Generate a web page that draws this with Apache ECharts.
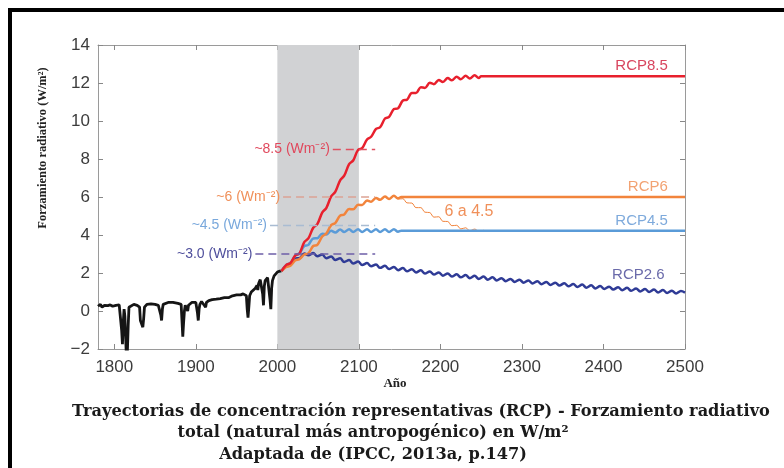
<!DOCTYPE html>
<html><head><meta charset="utf-8">
<script src="https://cdn.jsdelivr.net/npm/echarts@6/dist/echarts.min.js"></script>
<style>
html,body{margin:0;padding:0;background:#fff;overflow:hidden;width:784px;height:468px;}
#c{position:absolute;left:0;top:0;width:784px;height:468px;}
#frame{position:absolute;left:8px;top:8px;width:800px;height:480px;border-top:4px solid #000;border-left:4px solid #000;pointer-events:none;}
</style></head><body>
<div id="c"></div><div id="frame"></div>
<script>
// ---------- data ----------
const xTicks = [1800, 1900, 2000, 2100, 2200, 2300, 2400, 2500];
const band = [2000, 2100];

const histYears = [1780,1783,1785,1788,1792,1795,1798,1802,1806,1808,1809,1810,1811,1812,1813,1815,1816,1817,1818,1820,1824,1828,1831,1832,1835,1836,1837,1840,1845,1850,1854,1856,1857,1858,1859,1860,1866,1872,1878,1882,1883,1884,1885,1886,1887,1889,1890,1891,1895,1900,1902,1903,1904,1905,1907,1912,1913,1916,1920,1925,1930,1935,1940,1945,1950,1955,1958,1962,1963,1964,1965,1966,1968,1970,1973,1975,1976,1977,1979,1981,1982,1983,1984,1985,1988,1990,1991,1992,1993,1994,1996,1998,2000,2003,2005];
const histVals = [0.25,0.35,0.2,0.3,0.28,0.32,0.25,0.3,0.32,0.28,-1.0,-1.75,-0.6,0.1,-0.3,-2.6,-2.2,-0.8,0.2,0.3,0.35,0.3,0.2,-0.5,-0.85,-0.4,0.2,0.35,0.38,0.35,0.3,0.3,-0.2,-0.5,0.1,0.35,0.45,0.45,0.4,0.35,-0.5,-1.35,-0.6,0.0,0.3,0.25,0.0,0.3,0.45,0.45,-0.1,-0.5,0.1,0.35,0.5,0.2,0.45,0.55,0.6,0.62,0.65,0.7,0.7,0.8,0.85,0.85,0.9,0.8,0.1,-0.35,0.2,0.8,1.0,1.1,1.2,1.35,1.1,1.45,1.65,1.55,0.9,0.3,1.3,1.6,1.75,1.8,0.6,0.1,1.2,1.6,1.85,1.95,2.05,2.1,2.1];

// years of the scenario samples (half solar cycles)
const scenYears = [2005,2011,2016,2022,2027,2033,2038,2044,2049,2055,2060,2066,2071,2077,2082,2088,2093,2099,2104,2110,2115,2121,2126,2132,2137,2143,2148,2154,2159,2165,2170,2176,2181,2187,2192,2198,2203,2209,2214,2220,2225,2231,2236,2242,2247,2253,2258,2264,2269,2275,2280,2286,2291,2297,2302,2308,2313,2319,2324,2330,2335,2341,2346,2352,2357,2363,2368,2374,2379,2385,2390,2396,2401,2407,2412,2418,2423,2429,2434,2440,2445,2451,2456,2462,2467,2473,2478,2484,2489,2495,2500];

const rcp26 = [2.1,2.37,2.43,2.77,2.78,3.02,2.93,3.05,2.88,2.97,2.78,2.87,2.68,2.77,2.58,2.68,2.50,2.60,2.42,2.52,2.35,2.45,2.27,2.38,2.21,2.32,2.15,2.26,2.09,2.20,2.03,2.14,1.97,2.08,1.92,2.03,1.86,1.98,1.81,1.93,1.77,1.89,1.73,1.85,1.69,1.81,1.65,1.77,1.61,1.73,1.57,1.69,1.53,1.65,1.49,1.61,1.45,1.57,1.41,1.53,1.37,1.49,1.34,1.46,1.30,1.42,1.26,1.39,1.23,1.35,1.19,1.32,1.16,1.28,1.13,1.25,1.09,1.22,1.06,1.19,1.03,1.16,1.00,1.13,0.97,1.10,0.95,1.07,0.92,1.05,0.97];

const rcp85 = [2.1,2.43,2.52,2.93,3.02,3.63,3.82,4.38,4.57,5.18,5.42,6.03,6.27,6.88,7.12,7.73,7.92,8.48,8.57,9.03,9.17,9.58,9.67,10.13,10.22,10.63,10.67,11.08,11.12,11.48,11.47,11.78,11.74,12.01,11.94,12.16,12.05,12.26,12.14,12.33,12.20,12.38,12.24,12.41,12.26];
const rcp85TailYears = [2250, 2500];
const rcp85TailVals = [12.35, 12.35];

const rcp6 = [2.1,2.32,2.38,2.67,2.73,2.97,3.03,3.42,3.48,3.92,4.08,4.52,4.63,5.02,5.08,5.37,5.35,5.59,5.58,5.82,5.75,5.95,5.85,6.02,5.90,6.06,5.93];
const rcp6TailYears = [2152, 2500];
const rcp6TailVals = [6.0, 6.0];

const rcp45 = [2.1,2.42,2.53,2.92,3.03,3.42,3.48,3.82,3.83,4.07,4.03,4.22,4.13,4.29,4.16,4.30,4.16,4.30,4.16,4.30,4.16,4.30,4.16,4.30,4.16,4.30,4.17];
const rcp45TailYears = [2152, 2500];
const rcp45TailVals = [4.23, 4.23];

const r6to45Years = [2143,2148,2154,2159,2165,2170,2176,2181,2187,2192,2198,2203,2209,2214,2220,2225,2231,2236,2242,2247,2253];
const r6to45Vals = [6.06,5.89,5.91,5.69,5.68,5.44,5.44,5.20,5.18,4.94,4.96,4.72,4.71,4.49,4.51,4.32,4.38,4.22,4.31,4.20,4.25];

// reference levels (dashed) : value, start year, end year
const refLevels = [8.5, 6.0, 4.5, 3.0];
const refStart = [2068, 2007, 1991, 1973];
const refEnd = [2120, 2120, 2120, 2120];
const refText = ['~8.5 (Wm\u207B\u00B2)', '~6 (Wm\u207B\u00B2)', '~4.5 (Wm\u207B\u00B2)', '~3.0 (Wm\u207B\u00B2)'];

const scenNames = ['RCP8.5', 'RCP6', 'RCP4.5', 'RCP2.6'];
const scenLabelYear = [2479, 2479, 2479, 2475];
const scenLabelVal = [12.9, 6.53, 4.74, 1.89];
const midLabel = '6 a 4.5', midLabelYear = 2205, midLabelVal = 5.21;

const yTitle = 'Forzamiento radiativo (W/m\u00B2)';
const xTitle = 'Año';
const caption = ['Trayectorias de concentración representativas (RCP) - Forzamiento radiativo',
                 'total (natural más antropogénico) en W/m\u00B2',
                 'Adaptada de (IPCC, 2013a, p.147)'];

// ---------- helpers ----------
function zip(ys, vs) { const o = []; for (let i = 0; i < vs.length; i++) o.push([ys[i], vs[i]]); return o; }

const C = {
  hist: '#151515', r85: '#e8202d', r6: '#f2843c', r45: '#5a9bd8', r26: '#2f3b96',
  l85: '#d8455e', l6: '#f2a272', l45: '#7eaadc', l26: '#6a6aaa',
  d85: '#e0505f', d6: '#dca294', d45: '#a9bcd2', d26: '#6d5fa8',
  t85: '#e0485c', t6: '#f0905a', t45: '#79a8dc', t26: '#4f4f9c',
  band: '#d1d2d4', axis: '#9a9a9a', tick: '#3c3c3c'
};

const chart = echarts.init(document.getElementById('c'), null, {renderer: 'canvas'});

const axisCommonX = {
  type: 'value', min: 1780, max: 2500,
  axisLine: {show: true, onZero: false, lineStyle: {color: C.axis, width: 1}},
  splitLine: {show: false},
  axisTick: {show: true, inside: true, length: 5, customValues: xTicks, lineStyle: {color: '#888'}}
};
const axisCommonY = {
  type: 'value', min: -2, max: 14, interval: 2,
  axisLine: {show: true, onZero: false, lineStyle: {color: C.axis, width: 1}},
  splitLine: {show: false},
  axisTick: {show: true, inside: true, length: 5, lineStyle: {color: '#888'}}
};

const lineBase = {type: 'line', symbol: 'none', showSymbol: false, silent: true, z: 3};

const series = [
  Object.assign({}, lineBase, {
    name: 'hist', data: zip(histYears, histVals),
    lineStyle: {color: C.hist, width: 2.8}, z: 2,
    markArea: {silent: true, itemStyle: {color: C.band}, data: [[{xAxis: band[0]}, {xAxis: band[1]}]]}
  }),
  Object.assign({}, lineBase, {
    name: 'RCP2.6', data: zip(scenYears, rcp26), smooth: 0.35,
    lineStyle: {color: C.r26, width: 2.5}
  }),
  Object.assign({}, lineBase, {
    name: '6a45', data: zip(r6to45Years, r6to45Vals), smooth: 0.35,
    lineStyle: {color: C.r6, width: 1}
  }),
  Object.assign({}, lineBase, {
    name: 'RCP4.5', data: zip(scenYears, rcp45).concat(zip(rcp45TailYears, rcp45TailVals)), smooth: 0.35,
    lineStyle: {color: C.r45, width: 2.5}
  }),
  Object.assign({}, lineBase, {
    name: 'RCP6', data: zip(scenYears, rcp6).concat(zip(rcp6TailYears, rcp6TailVals)), smooth: 0.35,
    lineStyle: {color: C.r6, width: 2.5}
  }),
  Object.assign({}, lineBase, {
    name: 'RCP8.5', data: zip(scenYears, rcp85).concat(zip(rcp85TailYears, rcp85TailVals)), smooth: 0.35,
    lineStyle: {color: C.r85, width: 2.5}, z: 4
  })
];
const dashCols = [C.d85, C.d6, C.d45, C.d26];
refLevels.forEach((v, i) => {
  series.push(Object.assign({}, lineBase, {
    name: 'ref' + i, data: [[refStart[i], v], [refEnd[i], v]],
    lineStyle: {color: dashCols[i], width: 1.5, type: [8, 5]}, z: 5
  }));
});

const option = {
  animation: false,
  backgroundColor: '#fff',
  grid: {left: 98, top: 45, right: 99, bottom: 119, containLabel: false, outerBoundsMode: 'none'},
  xAxis: [
    Object.assign({}, axisCommonX, {position: 'bottom',
      axisLabel: {customValues: xTicks, color: C.tick, fontSize: 17, fontFamily: 'Liberation Sans', margin: 10,
        formatter: v => String(v)}}),
    Object.assign({}, axisCommonX, {position: 'top', axisLabel: {show: false}})
  ],
  yAxis: [
    Object.assign({}, axisCommonY, {position: 'left',
      axisLabel: {color: C.tick, fontSize: 17, fontFamily: 'Liberation Sans', margin: 8,
        formatter: v => v < 0 ? '\u2212' + Math.abs(v) : String(v)}}),
    Object.assign({}, axisCommonY, {position: 'right', axisLabel: {show: false}})
  ],
  series: series
};
chart.setOption(option);

// ---------- annotations ----------
const g = [];
function txt(text, p, color, size, align, family, weight, rot) {
  const el = {type: 'text', x: p[0], y: p[1], silent: true, z: 100,
    style: {text: text, fill: color, font: (weight || 'normal') + ' ' + size + 'px ' + (family || '"Liberation Sans", Arial, sans-serif'),
      align: align, verticalAlign: 'middle', textAlign: align, textVerticalAlign: 'middle'}};
  if (rot) { el.rotation = rot; }
  return el;
}
const toPx = (x, y) => chart.convertToPixel({gridIndex: 0}, [x, y]);
const labCols = [C.l85, C.l6, C.l45, C.l26];
scenNames.forEach((n, i) => g.push(txt(n, toPx(scenLabelYear[i], scenLabelVal[i]), labCols[i], 15, 'right')));
g.push(txt(midLabel, toPx(midLabelYear, midLabelVal), C.t6, 16, 'left'));
const refTxtCols = [C.t85, C.t6, C.t45, C.t26];
refLevels.forEach((v, i) => {
  const p = toPx(refStart[i], v);
  g.push(txt(refText[i], [p[0] - 3, p[1]], refTxtCols[i], 14, 'right'));
});
// axis titles
g.push(txt(yTitle, [43, 148], '#222', 12.5, 'center', '"Liberation Serif", "Times New Roman", serif', 'bold', Math.PI / 2));
g.push(txt(xTitle, [395, 384], '#222', 13, 'center', '"Liberation Serif", "Times New Roman", serif', 'bold'));
// caption
const ctx = document.createElement('canvas').getContext('2d');
const capFam = '"DejaVu Serif", serif';
ctx.font = 'bold 100px ' + capFam;
const capSize = Math.round(100 * 698 / ctx.measureText(caption[0]).width * 10) / 10;
const capPos = [[421, 412], [373, 433], [373, 455]];
caption.forEach((t, i) => g.push(txt(t, capPos[i], '#1a1a1a', capSize, 'center', capFam, 'bold')));
chart.setOption({graphic: g});
</script></body></html>
